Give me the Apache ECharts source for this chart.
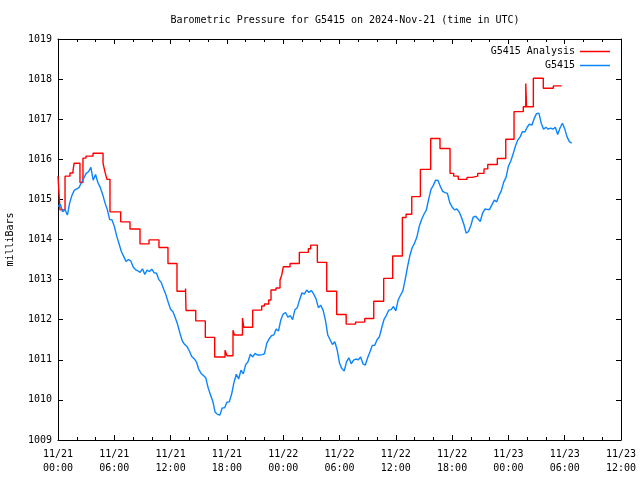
<!DOCTYPE html>
<html>
<head>
<meta charset="utf-8">
<script src="https://cdn.jsdelivr.net/npm/echarts@6/dist/echarts.min.js"></script>
<style>html,body{margin:0;padding:0;background:#fff;}#c{width:640px;height:480px;}</style>
</head>
<body>
<div id="c"></div>
<script>
var titleText = 'Barometric Pressure for G5415 on 2024-Nov-21 (time in UTC)';
var yAxisName = 'milliBars';
var seriesNames = ['G5415 Analysis', 'G5415'];
var seriesColors = ['#ff0000', '#0a84ff'];
var xTickLabels = ['11/21\n00:00','11/21\n06:00','11/21\n12:00','11/21\n18:00','11/22\n00:00','11/22\n06:00','11/22\n12:00','11/22\n18:00','11/23\n00:00','11/23\n06:00','11/23\n12:00'];

// Analysis (step line): hours since 11/21 00:00 UTC, and pressure (mb)
var analysisHours = [0, 0.21, 0.75, 1.28, 1.6, 1.71, 2.34, 2.66, 2.98, 3.73, 4.80, 5.01, 5.22, 5.54, 6.68, 7.67, 8.74, 9.70, 10.76, 11.72, 12.68, 13.59, 13.64, 14.68, 15.70, 16.70, 17.80, 18.01, 18.65, 18.80, 19.66, 19.80, 20.75, 21.71, 22.0, 22.46, 22.70, 23.23, 23.66, 23.84, 24.01, 24.73, 25.72, 26.68, 26.93, 27.64, 28.64, 29.70, 30.71, 31.71, 32.69, 33.65, 34.71, 35.67, 36.70, 37.09, 37.70, 38.62, 39.72, 40.71, 41.78, 42.17, 42.66, 43.59, 44.13, 44.73, 45.40, 45.80, 46.82, 47.72, 48.60, 49.59, 49.85, 49.93, 50.66, 51.72, 52.79, 53.68];
var analysisValues = [1015.58, 1014.74, 1015.58, 1015.66, 1015.72, 1015.90, 1015.42, 1016.03, 1016.08, 1016.15, 1015.90, 1015.68, 1015.50, 1014.69, 1014.44, 1014.26, 1013.89, 1013.99, 1013.80, 1013.40, 1012.71, 1012.78, 1012.23, 1011.97, 1011.56, 1011.07, 1011.24, 1011.10, 1011.74, 1011.62, 1012.04, 1011.81, 1012.24, 1012.34, 1012.39, 1012.49, 1012.74, 1012.79, 1012.99, 1013.11, 1013.32, 1013.40, 1013.68, 1013.77, 1013.86, 1013.43, 1012.71, 1012.13, 1011.89, 1011.94, 1012.03, 1012.46, 1013.03, 1013.59, 1014.55, 1014.63, 1015.07, 1015.75, 1016.52, 1016.27, 1015.65, 1015.58, 1015.50, 1015.55, 1015.58, 1015.65, 1015.76, 1015.87, 1016.02, 1016.50, 1017.19, 1017.31, 1017.89, 1017.31, 1018.02, 1017.77, 1017.83, 1017.83];

// Station observations, every 15 minutes from 11/21 00:00 UTC
var stationStartHour = 0;
var stationStepHours = 0.25;
var stationValues = [
1014.82,1014.88,1014.69,1014.74,1014.61,1014.92,1015.11,1015.23,1015.26,1015.30,
1015.42,1015.53,1015.65,1015.69,1015.80,1015.48,1015.62,1015.42,1015.30,1015.13,
1014.92,1014.75,1014.50,1014.49,1014.33,1014.09,1013.90,1013.70,1013.58,1013.45,
1013.50,1013.47,1013.32,1013.25,1013.22,1013.18,1013.27,1013.13,1013.24,1013.20,
1013.26,1013.17,1013.16,1013.00,1012.93,1012.77,1012.62,1012.43,1012.26,1012.20,
1012.05,1011.88,1011.66,1011.47,1011.38,1011.33,1011.22,1011.08,1011.03,1010.95,
1010.76,1010.66,1010.61,1010.55,1010.30,1010.13,1009.96,1009.69,1009.64,1009.62,
1009.80,1009.80,1009.94,1009.95,1010.14,1010.43,1010.64,1010.52,1010.74,1010.65,
1010.88,1010.95,1011.14,1011.07,1011.16,1011.12,1011.12,1011.13,1011.15,1011.41,
1011.52,1011.60,1011.62,1011.77,1011.72,1012.00,1012.14,1012.18,1012.06,1012.10,
1012.00,1012.25,1012.30,1012.50,1012.67,1012.64,1012.74,1012.68,1012.73,1012.64,
1012.52,1012.30,1012.36,1012.24,1011.99,1011.62,1011.50,1011.38,1011.45,1011.25,
1010.92,1010.78,1010.72,1010.95,1011.05,1010.90,1010.99,1011.02,1011.00,1011.07,
1010.90,1010.87,1011.05,1011.20,1011.36,1011.36,1011.50,1011.57,1011.80,1012.01,
1012.11,1012.24,1012.25,1012.33,1012.22,1012.49,1012.61,1012.72,1013.00,1013.32,
1013.60,1013.80,1013.91,1014.06,1014.33,1014.50,1014.63,1014.73,1015.00,1015.25,
1015.35,1015.48,1015.47,1015.32,1015.20,1015.17,1015.15,1014.92,1014.81,1014.74,
1014.76,1014.69,1014.55,1014.38,1014.16,1014.20,1014.35,1014.56,1014.58,1014.52,
1014.45,1014.66,1014.76,1014.75,1014.75,1014.87,1014.98,1014.94,1015.10,1015.22,
1015.43,1015.55,1015.83,1015.95,1016.13,1016.33,1016.48,1016.56,1016.69,1016.68,
1016.80,1016.88,1016.85,1017.02,1017.14,1017.15,1016.90,1016.75,1016.80,1016.75,
1016.78,1016.75,1016.80,1016.62,1016.78,1016.90,1016.76,1016.56,1016.44,1016.40
];

var FONT = 'DejaVu Sans Mono';
var analysisData = analysisHours.map(function (h, i) { return [h, analysisValues[i]]; });
var stationData = stationValues.map(function (v, i) { return [stationStartHour + i * stationStepHours, v]; });

var chart = echarts.init(document.getElementById('c'), null, {renderer: 'canvas'});
var tickStyle = {show: true, inside: true, length: 5, lineStyle: {color: '#000', width: 1}};
var minorStyle = {show: true, splitNumber: 3, length: 3, lineStyle: {color: '#000', width: 1}};
chart.setOption({
  animation: false,
  backgroundColor: '#fff',
  title: {
    text: titleText, left: 340, top: 10, textAlign: 'center',
    textStyle: {fontFamily: FONT, fontSize: 10, fontWeight: 'normal', color: '#000'}
  },
  legend: {
    orient: 'vertical', right: 25, top: 41, align: 'right',
    itemWidth: 30, itemHeight: 1.5, itemGap: 3, icon: 'rect',
    textStyle: {fontFamily: FONT, fontSize: 10, color: '#000', lineHeight: 11, padding: [0, 0, 0, 1]},
    data: seriesNames.map(function (n, i) {
      return {name: n, itemStyle: {color: seriesColors[i], borderWidth: 0}};
    })
  },
  grid: {left: 58, right: 19, top: 39, bottom: 40, containLabel: false, outerBoundsMode: 'none'},
  xAxis: [{
    type: 'value', min: 0, max: 60, interval: 6, position: 'bottom',
    axisLine: {show: true, onZero: false, lineStyle: {color: '#000', width: 1}},
    axisTick: tickStyle, minorTick: minorStyle, splitLine: {show: false},
    axisLabel: {fontFamily: FONT, fontSize: 10, color: '#000', lineHeight: 14, margin: 7,
      formatter: function (v) { return xTickLabels[Math.round(v / 6)]; }}
  }, {
    type: 'value', min: 0, max: 60, interval: 6, position: 'top',
    axisLine: {show: true, onZero: false, lineStyle: {color: '#000', width: 1}},
    axisTick: tickStyle, minorTick: minorStyle, splitLine: {show: false},
    axisLabel: {show: false}
  }],
  yAxis: [{
    type: 'value', min: 1009, max: 1019, interval: 1, position: 'left',
    name: yAxisName, nameLocation: 'middle', nameGap: 43, nameRotate: 90,
    nameTextStyle: {fontFamily: FONT, fontSize: 10, color: '#000'},
    axisLine: {show: true, onZero: false, lineStyle: {color: '#000', width: 1}},
    axisTick: tickStyle, splitLine: {show: false},
    axisLabel: {fontFamily: FONT, fontSize: 10, color: '#000', margin: 6,
      formatter: function (v) { return String(v); }}
  }, {
    type: 'value', min: 1009, max: 1019, interval: 1, position: 'right',
    axisLine: {show: true, onZero: false, lineStyle: {color: '#000', width: 1}},
    axisTick: tickStyle, splitLine: {show: false}, axisLabel: {show: false}
  }],
  series: [{
    name: seriesNames[0], type: 'line', step: 'end', data: analysisData,
    showSymbol: false, symbol: 'none', color: seriesColors[0],
    itemStyle: {color: seriesColors[0]},
    lineStyle: {color: seriesColors[0], width: 1.4}, xAxisIndex: 0, yAxisIndex: 0
  }, {
    name: seriesNames[1], type: 'line', data: stationData,
    showSymbol: false, symbol: 'none', color: seriesColors[1],
    itemStyle: {color: seriesColors[1]},
    lineStyle: {color: seriesColors[1], width: 1.4}, xAxisIndex: 0, yAxisIndex: 0
  }]
});
</script>
</body>
</html>
